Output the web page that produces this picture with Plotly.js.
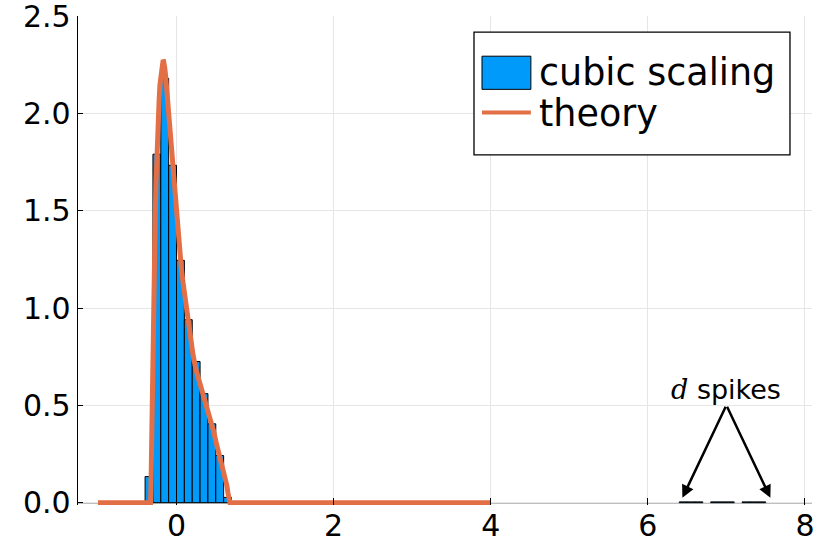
<!DOCTYPE html>
<html>
<head>
<meta charset="utf-8">
<script src="https://cdn.plot.ly/plotly-3.0.1.min.js"></script>
<style>html,body{margin:0;padding:0;background:#fff;}#chart{width:830px;height:554px;}</style>
</head>
<body>
<div id="chart"></div>
<script>
// Histogram (normalized density), bin width 0.1
const binCenters = [-0.35, -0.25, -0.15, -0.05, 0.05, 0.15, 0.25, 0.35, 0.45, 0.55, 0.65,
                    6.45, 6.55, 6.65, 6.85, 6.95, 7.05, 7.25, 7.35, 7.45];
const binHeights = [0.134, 1.79, 2.18, 1.733, 1.245, 0.94, 0.725, 0.56, 0.405, 0.242, 0.027,
                    0.004, 0.004, 0.004, 0.004, 0.004, 0.004, 0.004, 0.004, 0.004];
const binWidth = 0.1;

// Theory density curve
const theoryX = [-1.0, -0.33, -0.325, -0.32, -0.315, -0.31, -0.30, -0.29, -0.28, -0.27, -0.26, -0.25, -0.24,
                 -0.23, -0.22, -0.21, -0.20, -0.19, -0.185, -0.18, -0.175, -0.17, -0.165, -0.16, -0.155, -0.15,
                 -0.14, -0.13, -0.12, -0.11,
                 -0.10, -0.08, -0.06, -0.04, -0.02, 0.0, 0.02, 0.04, 0.06, 0.08, 0.10, 0.13,
                 0.17, 0.21, 0.25, 0.30, 0.35, 0.39, 0.43, 0.47, 0.51, 0.556, 0.59, 0.62, 0.64, 0.655, 0.67, 0.68, 4.0];
const theoryY = [0, 0, 0.08, 0.25, 0.45, 0.62, 0.95, 1.16, 1.33, 1.49, 1.65, 1.80, 1.92,
                 2.01, 2.08, 2.15, 2.20, 2.235, 2.25, 2.262, 2.27, 2.273, 2.27, 2.262, 2.25, 2.235,
                 2.20, 2.15, 2.09, 2.03,
                 1.97, 1.86, 1.76, 1.66, 1.56, 1.47, 1.37, 1.29, 1.21, 1.14, 1.08, 0.99,
                 0.87, 0.76, 0.68, 0.61, 0.55, 0.49, 0.43, 0.37, 0.30, 0.233, 0.18, 0.13, 0.09, 0.05, 0.015, 0, 0];

const xTicks = [0, 2, 4, 6, 8];
const yTicks = [0.0, 0.5, 1.0, 1.5, 2.0, 2.5];
const yTickText = ['0.0', '0.5', '1.0', '1.5', '2.0', '2.5'];

const seriesNames = ['cubic scaling', 'theory'];
const annText = '<span style="font-family:\'DejaVu Serif\'"><i>d</i></span> spikes';

const blue = '#009AFA';
const orange = '#E26F46';
const font = 'DejaVu Sans, sans-serif';

const traces = [
  {
    type: 'bar', x: binCenters, y: binHeights, width: binWidth,
    marker: {color: blue, line: {color: '#000', width: 1}},
    name: seriesNames[0], showlegend: false, hoverinfo: 'skip'
  },
  {
    type: 'scatter', mode: 'lines', x: theoryX, y: theoryY,
    line: {color: orange, width: 5, shape: 'linear'},
    name: seriesNames[1], showlegend: false, hoverinfo: 'skip'
  }
];

const layout = {
  width: 830, height: 554,
  margin: {l: 78, r: 18, t: 16, b: 49.2},
  paper_bgcolor: '#fff', plot_bgcolor: '#fff',
  font: {family: font, color: '#000', size: 30},
  showlegend: false,
  bargap: 0,
  xaxis: {
    range: [-1.254, 8.09], tickvals: xTicks, ticktext: xTicks.map(String),
    showgrid: true, gridcolor: '#e6e6e6', gridwidth: 1,
    zeroline: false, showline: false,
    ticks: 'inside', ticklen: 7, tickcolor: '#000', tickwidth: 1,
    ticklabeloverflow: 'allow', ticklabelstandoff: 0,
    tickfont: {family: font, size: 30, color: '#000'}
  },
  yaxis: {
    range: [-0.012, 2.5], tickvals: yTicks, ticktext: yTickText,
    showgrid: true, gridcolor: '#e6e6e6', gridwidth: 1,
    zeroline: false, showline: true, linecolor: '#000', linewidth: 1.3,
    ticks: 'inside', ticklen: 5, tickcolor: '#000', tickwidth: 1,
    ticklabeloverflow: 'allow',
    tickfont: {family: font, size: 30, color: '#000'}
  },
  shapes: [
    {type: 'line', xref: 'paper', yref: 'y', x0: 0, x1: 1, y0: 0, y1: 0,
     line: {color: '#000', width: 1.3}, layer: 'below'},
    {type: 'rect', xref: 'paper', yref: 'paper', x0: 0.5395, x1: 0.970, y0: 0.716, y1: 0.967,
     line: {color: '#000', width: 1.3}, fillcolor: '#fff', layer: 'above'},
    {type: 'rect', xref: 'paper', yref: 'paper', x0: 0.5504, x1: 0.617, y0: 0.850, y1: 0.9178,
     line: {color: '#000', width: 1}, fillcolor: blue, layer: 'above'},
    {type: 'line', xref: 'paper', yref: 'paper', x0: 0.5504, x1: 0.617, y0: 0.8027, y1: 0.8027,
     line: {color: orange, width: 4}, layer: 'above'}
  ],
  annotations: [
    {xref: 'paper', yref: 'paper', x: 0.6250, y: 0.884, xanchor: 'left', yanchor: 'middle',
     text: seriesNames[0], showarrow: false, font: {family: font, size: 36.5, color: '#000'}},
    {xref: 'paper', yref: 'paper', x: 0.6250, y: 0.800, xanchor: 'left', yanchor: 'middle',
     text: seriesNames[1], showarrow: false, font: {family: font, size: 36.5, color: '#000'}},
    {xref: 'x', yref: 'y', x: 7.0, y: 0.58, xanchor: 'center', yanchor: 'middle',
     text: annText, showarrow: false, font: {family: font, size: 27, color: '#000'}},
    {xref: 'x', yref: 'y', axref: 'x', ayref: 'y', x: 6.44, y: 0.025, ax: 7.0, ay: 0.5,
     text: '', showarrow: true, arrowhead: 2, arrowsize: 1, arrowwidth: 2.5, arrowcolor: '#000'},
    {xref: 'x', yref: 'y', axref: 'x', ayref: 'y', x: 7.56, y: 0.025, ax: 7.0, ay: 0.5,
     text: '', showarrow: true, arrowhead: 2, arrowsize: 1, arrowwidth: 2.5, arrowcolor: '#000'}
  ]
};

Plotly.newPlot('chart', traces, layout, {displayModeBar: false, staticPlot: true});
</script>
</body>
</html>
